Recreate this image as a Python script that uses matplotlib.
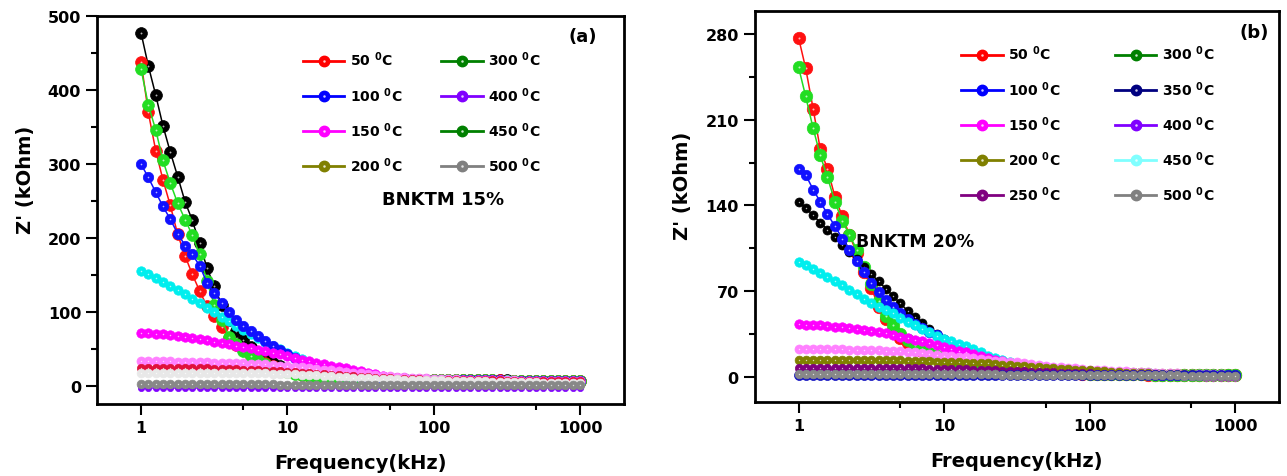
import numpy as np
import matplotlib.pyplot as plt
from matplotlib.lines import Line2D
from matplotlib.ticker import FixedLocator, NullFormatter

plt.rcParams['font.family'] = 'DejaVu Sans'
plt.rcParams['font.weight'] = 'bold'
plt.rcParams['mathtext.default'] = 'bf'

# frequency sweep (kHz), 20 points per decade
FREQ = [1, 1.12, 1.26, 1.41, 1.58, 1.78, 2.0, 2.24, 2.51, 2.82,
        3.16, 3.55, 3.98, 4.47, 5.01, 5.62, 6.31, 7.08, 7.94, 8.91,
        10, 11.2, 12.6, 14.1, 15.8, 17.8, 20, 22.4, 25.1, 28.2,
        31.6, 35.5, 39.8, 44.7, 50.1, 56.2, 63.1, 70.8, 79.4, 89.1,
        100, 112, 126, 141, 158, 178, 200, 224, 251, 282,
        316, 355, 398, 447, 501, 562, 631, 708, 794, 891, 1000]

# ---- BNKTM 15 % : Z' (kOhm) ----
A_BLACK = [477, 433, 393, 352, 317, 283, 249, 224, 193, 160,
           135, 110, 90, 75, 63, 53, 45, 38, 32, 27,
           23, 20, 17.5, 15.5, 14, 13, 12.2, 11.6, 11.1, 10.7,
           10.4, 10.1, 9.9, 9.7, 9.5, 9.3, 9.2, 9.1, 9.0, 8.9,
           8.8, 8.7, 8.6, 8.5, 8.4, 8.3, 8.2, 8.1, 8.0, 7.9,
           7.8, 7.7, 7.6, 7.5, 7.4, 7.3, 7.2, 7.1, 7.0, 6.9, 6.8]
A_RED = [438, 370, 318, 279, 245, 205, 176, 151, 129, 108,
         95, 80, 65, 56, 50, 41, 36, 31, 27, 23,
         20, 17.5, 15.5, 14, 13, 12.2, 11.6, 11.1, 10.7, 10.4,
         10.1, 9.9, 9.7, 9.5, 9.3, 9.2, 9.1, 9.0, 8.9, 8.8,
         8.7, 8.6, 8.5, 8.4, 8.3, 8.2, 8.1, 8.0, 7.9, 7.8,
         7.7, 7.6, 7.5, 7.4, 7.3, 7.2, 7.1, 7.0, 6.9, 6.8, 6.7]
A_GREEN = [428, 380, 346, 305, 275, 247, 225, 204, 178, 142,
           110, 90, 67, 57, 48, 41, 35, 30, 26, 22,
           19, 16.5, 14.6, 13.2, 12.2, 11.5, 11, 10.6, 10.3, 10.0,
           9.8, 9.6, 9.4, 9.3, 9.2, 9.1, 9.0, 8.9, 8.8, 8.7,
           8.6, 8.5, 8.4, 8.3, 8.2, 8.1, 8.0, 7.9, 7.8, 7.7,
           7.6, 7.5, 7.4, 7.3, 7.2, 7.1, 7.0, 6.9, 6.8, 6.7, 6.6]
A_CYAN = [156, 152, 146, 141, 136, 130, 124, 118, 112, 106,
          100, 94, 88, 82, 76, 70, 65, 60, 55, 50,
          45, 41, 37, 33, 29, 26, 23, 20.5, 18.5, 16.5,
          15, 13.8, 12.8, 12, 11.3, 10.7, 10.2, 9.8, 9.4, 9.1,
          8.9, 8.7, 8.6, 8.5, 8.4, 8.3, 8.2, 8.1, 8.0, 7.9,
          7.8, 7.7, 7.6, 7.5, 7.4, 7.3, 7.2, 7.1, 7.0, 6.9, 6.8]
A_BLUE = [300, 282, 262, 243, 226, 206, 190, 178, 163, 140,
          126, 112, 100, 90, 82, 75, 68, 61, 55, 49,
          44, 38, 33, 29, 25, 21.5, 18.5, 16.2, 14.5, 13.2,
          12.2, 11.4, 10.8, 10.3, 9.9, 9.6, 9.3, 9.1, 8.9, 8.8,
          8.7, 8.6, 8.5, 8.4, 8.3, 8.2, 8.1, 8.0, 7.9, 7.8,
          7.7, 7.6, 7.5, 7.4, 7.3, 7.2, 7.1, 7.0, 6.9, 6.8, 6.7]
A_MAGENTA = [72, 72, 71, 70, 69, 68, 67, 65, 64, 62,
             60, 59, 57, 55, 53, 51, 49, 47, 45, 43,
             41, 38, 36, 34, 32, 30, 28, 26, 24, 22,
             20, 18, 16, 14.5, 13, 11.5, 10.5, 9.8, 9.3, 8.9,
             8.7, 8.6, 8.5, 8.4, 8.3, 8.2, 8.1, 8.0, 7.9, 7.8,
             7.7, 7.6, 7.5, 7.4, 7.3, 7.2, 7.1, 7.0, 6.9, 6.8, 6.7]
A_PINK = [34, 34, 34, 33.5, 33.5, 33, 33, 33, 32.5, 32.5,
          32, 32, 31.5, 31, 31, 30.5, 30, 29.5, 29, 28,
          27, 26.5, 25.5, 24.5, 23.5, 22.5, 21.5, 20.5, 19.5, 18.5,
          17.5, 16.5, 15.5, 14.5, 13.7, 13, 12.3, 11.7, 11.2, 10.7,
          10.3, 9.9, 9.6, 9.3, 9.0, 8.8, 8.6, 8.4, 8.2, 8.0,
          7.9, 7.8, 7.7, 7.6, 7.5, 7.4, 7.3, 7.2, 7.1, 7.0, 6.9]
A_CRIMSON = [25, 25, 25, 25, 24.5, 24.5, 24.5, 24, 24, 24,
             23.5, 23.5, 23, 23, 22.5, 22, 21.5, 21, 20.5, 20,
             19.5, 19, 18.5, 18, 17, 16.5, 15.5, 15, 14, 13.5,
             12.8, 12.2, 11.6, 11.1, 10.6, 10.2, 9.8, 9.5, 9.2, 9.0,
             8.8, 8.6, 8.5, 8.4, 8.3, 8.2, 8.1, 8.0, 7.9, 7.8,
             7.7, 7.6, 7.5, 7.4, 7.3, 7.2, 7.1, 7.0, 6.9, 6.8, 6.7]
A_WHITE = [18.5, 18.5, 18.5, 18.5, 18.5, 18.4, 18.4, 18.3, 18.3, 18.2,
           18.2, 18.1, 18, 17.9, 17.8, 17.7, 17.5, 17.3, 17.1, 16.8,
           16.5, 16.1, 15.7, 15.2, 14.7, 14.2, 13.6, 13.0, 12.4, 11.8,
           11.3, 10.8, 10.3, 9.9, 9.5, 9.2, 8.9, 8.6, 8.4, 8.2,
           8.0, 7.8, 7.6, 7.4, 7.2, 7.0, 6.8, 6.6, 6.4, 6.2,
           6.0, 5.8, 5.6, 5.4, 5.2, 5.0, 4.8, 4.6, 4.4, 4.2, 4.0]
A_VIOLET = [-3] * 61
A_GRAY = [2.6, 2.6, 2.6, 2.6, 2.6, 2.6, 2.5, 2.5, 2.5, 2.5,
          2.5, 2.5, 2.5, 2.4, 2.4, 2.4, 2.4, 2.4, 2.4, 2.3,
          2.3, 2.3, 2.3, 2.3, 2.2, 2.2, 2.2, 2.2, 2.2, 2.1,
          2.1, 2.1, 2.1, 2.0, 2.0, 2.0, 2.0, 1.9, 1.9, 1.9,
          1.8, 1.8, 1.8, 1.7, 1.7, 1.7, 1.6, 1.6, 1.6, 1.5,
          1.5, 1.5, 1.4, 1.4, 1.4, 1.3, 1.3, 1.3, 1.2, 1.2, 1.2]

# ---- BNKTM 20 % : Z' (kOhm) ----
B_BLACK = [143, 138, 132, 126, 120, 114, 108, 102, 96, 90,
           84, 78, 72, 66, 60, 54, 49, 44, 39, 35,
           31, 28, 25, 22, 20, 17.5, 15.5, 13.5, 12, 10.5,
           9.3, 8.2, 7.3, 6.5, 5.8, 5.2, 4.7, 4.3, 3.9, 3.6,
           3.3, 3.1, 2.9, 2.7, 2.5, 2.4, 2.3, 2.2, 2.1, 2.0,
           1.9, 1.85, 1.8, 1.75, 1.7, 1.65, 1.6, 1.55, 1.5, 1.45, 1.4]
B_RED = [277, 252, 219, 186, 170, 147, 131, 116, 101, 86,
         73, 57, 47, 38, 32, 28, 24.5, 21, 18.5, 16.5,
         14.5, 13, 11.5, 10.3, 9.3, 8.4, 7.6, 6.9, 6.3, 5.8,
         5.3, 4.9, 4.5, 4.2, 3.9, 3.6, 3.4, 3.2, 3.0, 2.8,
         2.7, 2.6, 2.5, 2.4, 2.3, 2.2, 2.1, 2.0, 1.9, 1.8,
         1.75, 1.7, 1.65, 1.6, 1.55, 1.5, 1.45, 1.4, 1.35, 1.3, 1.25]
B_GREEN = [253, 229, 203, 181, 163, 143, 127, 116, 104, 90,
           76, 62, 50, 42, 35, 30, 26, 22.5, 19.5, 17,
           15, 13.3, 11.8, 10.5, 9.4, 8.5, 7.7, 7.0, 6.4, 5.9,
           5.4, 5.0, 4.6, 4.3, 4.0, 3.7, 3.5, 3.3, 3.1, 2.9,
           2.8, 2.7, 2.6, 2.5, 2.4, 2.3, 2.2, 2.1, 2.0, 1.9,
           1.8, 1.75, 1.7, 1.65, 1.6, 1.55, 1.5, 1.45, 1.4, 1.35, 1.3]
B_BLUE = [170, 165, 153, 143, 133, 123, 113, 104, 95, 86,
          77, 69, 63, 57, 52, 47, 43, 40, 37, 34,
          30, 27, 24, 21, 18.5, 16.3, 14.3, 12.6, 11.1, 9.8,
          8.7, 7.7, 6.9, 6.2, 5.6, 5.0, 4.5, 4.1, 3.7, 3.4,
          3.1, 2.9, 2.7, 2.6, 2.5, 2.4, 2.3, 2.2, 2.1, 2.0,
          1.9, 1.85, 1.8, 1.75, 1.7, 1.65, 1.6, 1.55, 1.5, 1.45, 1.4]
B_CYAN = [94, 91, 88, 85, 82, 78.5, 75, 71, 67.5, 64,
          60.5, 57.5, 55, 52, 48.5, 45, 42, 39.5, 36.5, 33.5,
          31, 29, 27, 25, 22.5, 20, 17.5, 15.5, 13.5, 12,
          10.5, 9.3, 8.2, 7.3, 6.5, 5.8, 5.2, 4.7, 4.2, 3.8,
          3.5, 3.2, 3.0, 2.8, 2.6, 2.45, 2.3, 2.2, 2.1, 2.0,
          1.9, 1.85, 1.8, 1.75, 1.7, 1.65, 1.6, 1.55, 1.5, 1.45, 1.4]
B_MAGENTA = [43, 42.8, 42.5, 42, 41.5, 41, 40.5, 40, 39, 38.5,
             37.5, 36.5, 35.5, 34.5, 33, 32, 30.5, 29, 27.5, 26,
             24.5, 23, 21.5, 20, 18.5, 17, 15.5, 14, 12.8, 11.6,
             10.5, 9.5, 8.6, 7.8, 7.0, 6.3, 5.7, 5.1, 4.6, 4.2,
             3.8, 3.4, 3.1, 2.8, 2.6, 2.4, 2.2, 2.0, 1.9, 1.8,
             1.7, 1.6, 1.5, 1.4, 1.3, 1.2, 1.1, 1.0, 0.9, 0.85, 0.8]
B_PINK = [23, 23, 23, 22.8, 22.8, 22.6, 22.5, 22.4, 22.3, 22.2,
          22, 21.8, 21.5, 21.2, 20.8, 20.4, 20, 19.5, 19, 18.3,
          17.5, 16.9, 16.4, 16, 15.4, 14.7, 14, 13.4, 12.8, 12.3,
          11.8, 11.2, 10.5, 9.9, 9.2, 8.5, 8.0, 7.5, 7.0, 6.4,
          6.0, 5.8, 5.4, 5.1, 4.8, 4.5, 4.2, 4.0, 3.8, 3.6,
          3.3, 3.1, 2.9, 2.7, 2.6, 2.4, 2.2, 2.1, 2.0, 1.9, 1.6]
B_OLIVE = [14, 14, 14, 14, 14, 13.9, 13.9, 13.8, 13.8, 13.7,
           13.7, 13.6, 13.6, 13.5, 13.5, 13.3, 13.1, 12.9, 12.7, 12.6,
           12.5, 12.3, 12.0, 11.7, 11.4, 11.1, 11.0, 10.5, 10.0, 9.6,
           9.2, 8.8, 8.4, 8.0, 7.5, 7.1, 6.7, 6.3, 6.0, 5.7,
           5.5, 5.0, 4.6, 4.2, 3.9, 3.6, 3.4, 3.1, 2.9, 2.7,
           2.5, 2.4, 2.2, 2.1, 2.0, 1.9, 1.8, 1.7, 1.6, 1.55, 1.5]
B_PURPLE = [7.5, 7.5, 7.5, 7.5, 7.5, 7.5, 7.4, 7.4, 7.4, 7.4,
            7.3, 7.3, 7.3, 7.2, 7.2, 7.1, 7.0, 6.9, 6.8, 6.7,
            6.6, 6.5, 6.4, 6.2, 6.0, 5.8, 5.6, 5.4, 5.2, 5.0,
            4.8, 4.6, 4.4, 4.2, 4.0, 3.8, 3.6, 3.4, 3.2, 3.0,
            2.9, 2.8, 2.7, 2.6, 2.5, 2.4, 2.3, 2.2, 2.1, 2.0,
            1.9, 1.8, 1.7, 1.6, 1.5, 1.4, 1.3, 1.2, 1.1, 1.0, 1.0]
B_NAVY = [1.5] * 61
B_GRAY = [2.4, 2.4, 2.4, 2.4, 2.4, 2.4, 2.4, 2.4, 2.3, 2.3,
          2.3, 2.3, 2.3, 2.3, 2.3, 2.2, 2.2, 2.2, 2.2, 2.2,
          2.1, 2.1, 2.1, 2.1, 2.0, 2.0, 2.0, 2.0, 1.9, 1.9,
          1.9, 1.9, 1.8, 1.8, 1.8, 1.7, 1.7, 1.7, 1.6, 1.6,
          1.6, 1.5, 1.5, 1.5, 1.4, 1.4, 1.4, 1.3, 1.3, 1.3,
          1.2, 1.2, 1.2, 1.1, 1.1, 1.1, 1.0, 1.0, 1.0, 1.0, 1.0]

# legend entries (temperature, colour)
LEG_A = [('50', '#ff0000'), ('100', '#0000ff'), ('150', '#ff00ff'), ('200', '#808000'),
         ('300', '#008000'), ('400', '#8000ff'), ('450', '#008000'), ('500', '#808080')]
LEG_B = [('50', '#ff0000'), ('100', '#0000ff'), ('150', '#ff00ff'), ('200', '#808000'),
         ('250', '#800080'), ('300', '#008000'), ('350', '#000080'), ('400', '#8000ff'),
         ('450', '#80ffff'), ('500', '#808080')]

X_TICKS = [1, 10, 100, 1000]
X_MINOR = [5, 50, 500]


def ball(ax, y, color, ms, lw=1.1):
    '''Origin-style shaded marker: coloured disc with a small white highlight'''
    ax.plot(FREQ, y, '-o', color=color, lw=lw, ms=ms, mfc=color, mec=color, mew=0.5)
    ax.plot(FREQ, y, 'o', ls='none', color='white', ms=ms * 0.16, mew=0, alpha=0.7)


def legend_handles(entries):
    handles, labels = [], []
    for temp, c in entries:
        ln = Line2D([], [], color=c, lw=2, marker='o', ms=7.5, mfc=c, mec=c)
        hl = Line2D([], [], ls='none', marker='o', ms=1.8, color='white', mew=0, alpha=0.8)
        handles.append((ln, hl))
        labels.append(temp + r' $^{0}$C')
    return handles, labels


def style_axes(ax, yticks, yminor, ylim):
    ax.set_xscale('log')
    ax.set_xlim(0.5, 2000)
    ax.set_ylim(*ylim)
    ax.xaxis.set_major_locator(FixedLocator(X_TICKS))
    ax.xaxis.set_minor_locator(FixedLocator(X_MINOR))
    ax.set_xticklabels([str(t) for t in X_TICKS])
    ax.xaxis.set_minor_formatter(NullFormatter())
    ax.set_yticks(yticks)
    ax.yaxis.set_minor_locator(FixedLocator(yminor))
    ax.tick_params(which='major', direction='out', length=8, width=1.5,
                   labelsize=11.5, top=False, right=False)
    ax.tick_params(which='minor', direction='out', length=4.5, width=1.5,
                   top=False, right=False)
    for lbl in ax.get_xticklabels() + ax.get_yticklabels():
        lbl.set_fontweight('bold')
    for sp in ax.spines.values():
        sp.set_linewidth(2)
    ax.set_xlabel('Frequency(kHz)', fontsize=14, fontweight='bold', labelpad=13)
    ax.set_ylabel("Z' (kOhm)", fontsize=14, fontweight='bold')


fig = plt.figure(figsize=(12.87, 4.77), dpi=100)
ax1 = fig.add_axes([0.0754, 0.1509, 0.4095, 0.8141])
ax2 = fig.add_axes([0.5864, 0.1545, 0.4074, 0.8210])

# panel (a)
ball(ax1, A_BLACK, 'black', 8.5)
ball(ax1, A_RED, '#ff1010', 8.5)
ball(ax1, A_GREEN, '#22dd22', 8.5)
ball(ax1, A_CYAN, '#00eeee', 6.8)
ball(ax1, A_BLUE, '#1010ff', 7.5)
ball(ax1, A_MAGENTA, '#ff00ff', 6.8)
ball(ax1, A_PINK, '#ff80ff', 6.5)
ball(ax1, A_CRIMSON, '#e0103c', 6.0, lw=1.5)
ball(ax1, A_WHITE, '#e8e8e8', 6.3)
ball(ax1, A_VIOLET, '#8000ff', 4.5)
ball(ax1, A_GRAY, '#888888', 6.3)
style_axes(ax1, range(0, 501, 100), range(50, 500, 100), (-24, 500.5))
ax1.yaxis.set_label_coords(-0.117, 0.58)

h, l = legend_handles(LEG_A)
ax1.legend(h, l, ncol=2, loc='upper left', bbox_to_anchor=(0.377, 0.93),
           frameon=False, prop={'weight': 'bold', 'size': 10}, handlelength=3.0,
           handletextpad=0.4, columnspacing=2.8, labelspacing=1.19, borderpad=0)
ax1.text(0.656, 0.528, 'BNKTM 15%', transform=ax1.transAxes, fontsize=13,
         fontweight='bold', ha='center', va='center')
ax1.text(0.922, 0.948, '(a)', transform=ax1.transAxes, fontsize=13,
         fontweight='bold', ha='center', va='center')

# panel (b)
ball(ax2, B_RED, '#ff1010', 9.0)
ball(ax2, B_GREEN, '#22dd22', 9.0)
ball(ax2, B_BLACK, 'black', 6.5)
ball(ax2, B_BLUE, '#1010ff', 7.5)
ball(ax2, B_CYAN, '#00eeee', 6.8)
ball(ax2, B_MAGENTA, '#ff00ff', 6.8)
ball(ax2, B_PINK, '#ff80ff', 6.5)
ball(ax2, B_OLIVE, '#808000', 6.3)
ball(ax2, B_PURPLE, '#800080', 6.0)
ball(ax2, B_NAVY, '#1010c0', 7.2)
ball(ax2, B_GRAY, '#888888', 6.3)
style_axes(ax2, range(0, 281, 70), range(35, 281, 70), (-20.7, 299))
ax2.yaxis.set_label_coords(-0.12, 0.555)

h, l = legend_handles(LEG_B)
ax2.legend(h, l, ncol=2, loc='upper left', bbox_to_anchor=(0.38, 0.933),
           frameon=False, prop={'weight': 'bold', 'size': 10}, handlelength=3.0,
           handletextpad=0.4, columnspacing=3.9, labelspacing=1.19, borderpad=0)
ax2.text(0.952, 0.946, '(b)', transform=ax2.transAxes, fontsize=13,
         fontweight='bold', ha='center', va='center')
ax2.text(0.305, 0.412, 'BNKTM 20%', transform=ax2.transAxes, fontsize=12.5,
         fontweight='bold', ha='center', va='center')

fig.savefig('out.png', dpi=100)
